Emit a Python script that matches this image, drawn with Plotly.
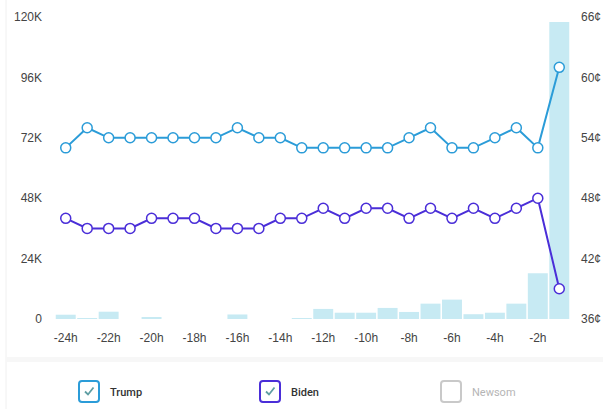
import plotly.graph_objects as go

# Hourly market data for the last 24 hours
hours = list(range(-24, 0))
volume_k = [1.7, 0.3, 2.9, 0, 0.8, 0, 0, 0, 1.8, 0, 0, 0.3,
            4.0, 2.5, 2.5, 4.4, 2.8, 6.1, 7.7, 1.9, 2.5, 6.1, 18.2, 118.0]
trump_cents = [53, 55, 54, 54, 54, 54, 54, 54, 55, 54, 54, 53,
               53, 53, 53, 53, 54, 55, 53, 53, 54, 55, 53, 61]
biden_cents = [46, 45, 45, 45, 46, 46, 46, 45, 45, 45, 46, 46,
               47, 46, 47, 47, 46, 47, 46, 47, 46, 47, 48, 39]

x_tickvals = list(range(-24, 0, 2))
x_ticktext = [f"{h}h" for h in x_tickvals]
vol_ticks = [0, 24000, 48000, 72000, 96000, 120000]
vol_ticktext = ["0", "24K", "48K", "72K", "96K", "120K"]
price_ticks = [36, 42, 48, 54, 60, 66]
price_ticktext = [f"{p}¢" for p in price_ticks]

TRUMP = "#2b9cd8"
BIDEN = "#4a2ed8"
BAR = "#c7eaf3"

W, H = 603, 409
L, R, T, B = 55, 33, 17, 90


def px(xp):
    return (xp - L) / (W - L - R)


def py(yp):
    return (H - B - yp) / (H - T - B)


fig = go.Figure()
fig.add_trace(go.Bar(
    x=hours, y=[v * 1000 for v in volume_k], marker_color=BAR,
    marker_line_width=0, yaxis="y", hoverinfo="skip"))
for name, vals, col in [("Trump", trump_cents, TRUMP), ("Biden", biden_cents, BIDEN)]:
    fig.add_trace(go.Scatter(
        x=hours, y=vals, name=name, yaxis="y2", mode="lines+markers",
        line=dict(color=col, width=2),
        marker=dict(size=10, color="white", line=dict(color=col, width=1.5))))

shapes = [
    # faint frame around the panel
    dict(type="line", xref="paper", yref="paper", x0=px(6), x1=px(6), y0=py(0), y1=py(409),
         line=dict(color="#f0f0f0", width=1)),
    dict(type="rect", xref="paper", yref="paper", x0=px(6), x1=px(603), y0=py(357), y1=py(362),
         fillcolor="#f7f7f7", line_width=0),
]
annotations = []


def rounded_box(x0, y0, x1, y1, r):
    return (f"M{px(x0 + r)},{py(y0)} L{px(x1 - r)},{py(y0)} Q{px(x1)},{py(y0)} {px(x1)},{py(y0 + r)} "
            f"L{px(x1)},{py(y1 - r)} Q{px(x1)},{py(y1)} {px(x1 - r)},{py(y1)} "
            f"L{px(x0 + r)},{py(y1)} Q{px(x0)},{py(y1)} {px(x0)},{py(y1 - r)} "
            f"L{px(x0)},{py(y0 + r)} Q{px(x0)},{py(y0)} {px(x0 + r)},{py(y0)} Z")


legend_items = [("Trump", TRUMP, 79, True, "#333333"),
                ("Biden", BIDEN, 260, True, "#333333"),
                ("Newsom", "#c9c9c9", 441, False, "#b5b5b5")]
for label, col, bx, checked, tcol in legend_items:
    shapes.append(dict(type="path", xref="paper", yref="paper",
                       path=rounded_box(bx, 381, bx + 20, 402, 3),
                       line=dict(color=col, width=2), fillcolor="white"))
    if checked:
        shapes.append(dict(type="path", xref="paper", yref="paper",
                           path=f"M{px(bx + 6)},{py(391.5)} L{px(bx + 9)},{py(394.5)} L{px(bx + 14.5)},{py(387.5)}",
                           line=dict(color="#5f9ea3", width=1.8)))
    annotations.append(dict(xref="paper", yref="paper", x=px(bx + 29), y=py(392),
                            text=label, showarrow=False, xanchor="left", yanchor="middle",
                            font=dict(family="Roboto", size=11, color=tcol,
                                      weight=500 if checked else 400)))

fig.update_layout(
    width=W, height=H, margin=dict(l=L, r=R, t=T, b=B, autoexpand=False),
    paper_bgcolor="white", plot_bgcolor="white",
    showlegend=False, bargap=0.07,
    font=dict(family="Liberation Sans, Arial", size=12, color="#444444"),
    xaxis=dict(range=[-24.5, -0.5], tickvals=x_tickvals, ticktext=x_ticktext,
               showgrid=False, zeroline=False, showline=False, ticklabelstandoff=10,
               automargin=False),
    yaxis=dict(range=[0, 120000], tickvals=vol_ticks, ticktext=vol_ticktext,
               showgrid=False, zeroline=False, showline=False, ticklabelstandoff=12,
               automargin=False),
    yaxis2=dict(range=[36, 66], tickvals=price_ticks, ticktext=price_ticktext,
                overlaying="y", side="right", showgrid=False, zeroline=False,
                showline=False, ticklabelstandoff=10, automargin=False),
    shapes=shapes, annotations=annotations,
)

fig.write_html("out.html")
